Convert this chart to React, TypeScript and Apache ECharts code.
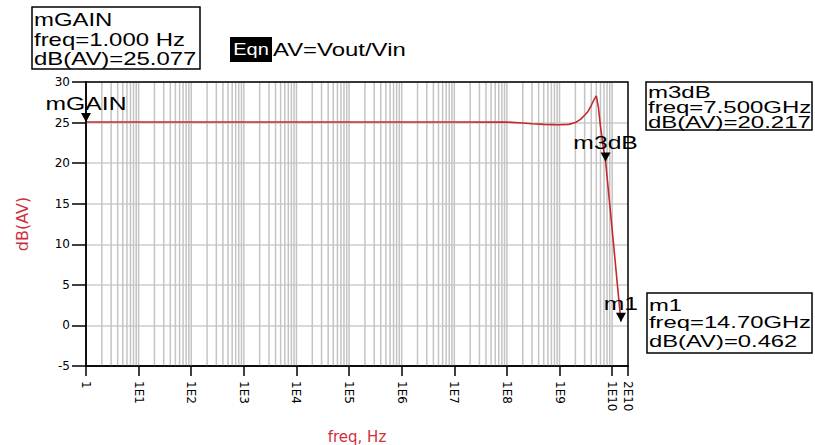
import React, { useEffect, useRef } from "react";
import * as echarts from "echarts";

// ---- data ----
const freqHz = [
  1, 10, 100, 1e3, 1e4, 1e5, 1e6, 1e7, 1e8, 2e8, 3e8, 5e8, 8e8, 1e9, 1.5e9,
  2e9, 2.5e9, 3e9, 3.5e9, 4e9, 4.5e9, 5e9, 5.5e9, 6e9, 6.5e9, 7e9, 7.5e9,
  9e9, 1.1e10, 1.3e10, 1.47e10,
];
const gainDb = [
  25.077, 25.077, 25.077, 25.077, 25.077, 25.077, 25.077, 25.077, 25.06,
  24.95, 24.85, 24.78, 24.75, 24.74, 24.78, 25.0, 25.4, 25.9, 26.4, 27.1,
  27.8, 28.3, 26.8, 24.5, 22.8, 21.4, 20.217, 14.9, 9.0, 4.0, 0.462,
];
const markerNames = ["mGAIN", "m3dB", "m1"];
const markerFreq = [1, 7.5e9, 1.47e10];
const markerDb = [25.077, 20.217, 0.462];

const xTickHz = [1, 1e1, 1e2, 1e3, 1e4, 1e5, 1e6, 1e7, 1e8, 1e9, 1e10, 2e10];
const xTickLabels = ["1", "1E1", "1E2", "1E3", "1E4", "1E5", "1E6", "1E7", "1E8", "1E9", "1E10", "2E10"];
const yMin = -5;
const yMax = 30;
const yStep = 5;

const gainBoxLines = ["mGAIN", "freq=1.000 Hz", "dB(AV)=25.077"];
const m3dBBoxLines = ["m3dB", "freq=7.500GHz", "dB(AV)=20.217"];
const m1BoxLines = ["m1", "freq=14.70GHz", "dB(AV)=0.462"];
const eqnTag = "Eqn";
const eqnText = "AV=Vout/Vin";
const xName = "freq, Hz";
const yName = "dB(AV)";

// grid lines positions (log axis structure): k * 10^n
const gridHz: number[] = [];
for (let n = 0; n <= 10; n++) {
  for (let k = 1; k <= 9; k++) {
    const v = k * Math.pow(10, n);
    if (v > 1 && v < 2e10) gridHz.push(v);
  }
}

const LS = '"Liberation Sans", Arial, sans-serif';
const DJ = '"DejaVu Sans", sans-serif';

function boxText(lines: string[], x: number, ys: number[], size: number, sx: number) {
  return lines.map((t, i) => ({
    type: "text",
    x,
    y: ys[i],
    scaleX: sx,
    z: 11,
    style: { text: t, font: `${size}px ${LS}`, fill: "#000", verticalAlign: "middle", align: "left" },
  }));
}

export default function App() {
  const ref = useRef<HTMLDivElement>(null);
  useEffect(() => {
    if (!ref.current) return;
    const chart = echarts.init(ref.current, undefined, { renderer: "svg" });
    const tickLogs = xTickHz.map((v) => Math.log10(v));
    const option: any = {
      animation: false,
      backgroundColor: "#fff",
      grid: {
        show: true,
        left: 86,
        right: 187,
        top: 82,
        bottom: 79,
        containLabel: false,
        outerBoundsMode: "none",
        borderColor: "#000",
        borderWidth: 1.5,
        backgroundColor: "transparent",
        z: 5,
      },
      xAxis: {
        type: "value",
        min: 0,
        max: Math.log10(2e10),
        axisLine: { show: true, onZero: false, lineStyle: { color: "#000", width: 1.5 } },
        axisTick: { show: true, customValues: tickLogs, length: 10, lineStyle: { color: "#000", width: 1.5 } },
        axisLabel: {
          customValues: tickLogs,
          rotate: -90,
          margin: 15,
          fontSize: 12,
          fontFamily: DJ,
          color: "#000",
          formatter: (v: number) => {
            const i = tickLogs.findIndex((t) => Math.abs(t - v) < 1e-6);
            return i >= 0 ? xTickLabels[i] : "";
          },
        },
        splitLine: { show: false },
        name: xName,
        nameLocation: "middle",
        nameGap: 63,
        nameTextStyle: { color: "#d0303a", fontSize: 15, fontFamily: DJ },
      },
      yAxis: {
        type: "value",
        min: yMin,
        max: yMax,
        interval: yStep,
        axisLine: { show: true, onZero: false, lineStyle: { color: "#000", width: 1.5 } },
        axisTick: { show: true, length: 14, lineStyle: { color: "#000", width: 1.5 } },
        axisLabel: { margin: 16, fontSize: 12, fontFamily: DJ, color: "#000" },
        splitLine: { show: true, lineStyle: { color: "#cdcdcd", width: 1.5 } },
        name: yName,
        nameLocation: "middle",
        nameGap: 56,
        nameRotate: 90,
        nameTextStyle: { color: "#d0303a", fontSize: 16, fontFamily: DJ },
      },
      series: [
        {
          type: "custom",
          silent: true,
          z: 1,
          clip: true,
          data: gridHz.map((f) => [Math.log10(f), yMin]),
          encode: { x: 0, y: 1 },
          renderItem: (_p: any, api: any) => {
            const x = api.value(0);
            const a = api.coord([x, yMin]);
            const b = api.coord([x, yMax]);
            return {
              type: "line",
              shape: { x1: a[0], y1: a[1], x2: b[0], y2: b[1] },
              style: { stroke: "#c4c4c4", lineWidth: 1.5 },
            };
          },
        },
        {
          type: "line",
          z: 3,
          showSymbol: false,
          symbol: "none",
          data: freqHz.map((f, i) => [Math.log10(f), gainDb[i]]),
          lineStyle: { color: "#c42830", width: 1.6 },
        },
        {
          type: "custom",
          z: 6,
          silent: true,
          data: markerFreq.map((f, i) => [Math.log10(f), markerDb[i], i]),
          encode: { x: 0, y: 1 },
          renderItem: (_p: any, api: any) => {
            const p = api.coord([api.value(0), api.value(1)]);
            const i = api.value(2);
            return {
              type: "group",
              children: [
                {
                  type: "polygon",
                  shape: { points: [[p[0] - 5, p[1] - 9], [p[0] + 5, p[1] - 9], [p[0], p[1]]] },
                  style: { fill: "#000" },
                },
                {
                  type: "text",
                  x: p[0],
                  y: p[1] - 9,
                  scaleX: 1.3,
                  style: {
                    text: markerNames[i],
                    font: `19px ${LS}`,
                    fill: "#000",
                    align: "center",
                    verticalAlign: "bottom",
                  },
                },
              ],
            };
          },
        },
      ],
      graphic: [
        { type: "rect", z: 10, shape: { x: 32, y: 7, width: 168, height: 62 }, style: { fill: "#fff", stroke: "#000", lineWidth: 1.5 } },
        ...boxText(gainBoxLines, 34, [20, 40, 59], 18, 1.33),
        { type: "rect", z: 10, shape: { x: 230, y: 37, width: 42, height: 25 }, style: { fill: "#000" } },
        { type: "text", z: 11, x: 251, y: 50, scaleX: 1.25, style: { text: eqnTag, font: `16px ${LS}`, fill: "#fff", align: "center", verticalAlign: "middle" } },
        { type: "text", z: 11, x: 273, y: 50, scaleX: 1.33, style: { text: eqnText, font: `18px ${LS}`, fill: "#000", align: "left", verticalAlign: "middle" } },
        { type: "rect", z: 10, shape: { x: 646, y: 82, width: 166, height: 48 }, style: { fill: "#fff", stroke: "#000", lineWidth: 1.5 } },
        ...boxText(m3dBBoxLines, 648, [93, 108, 123], 16, 1.5),
        { type: "rect", z: 10, shape: { x: 647, y: 293, width: 165, height: 60 }, style: { fill: "#fff", stroke: "#000", lineWidth: 1.5 } },
        ...boxText(m1BoxLines, 649, [305, 322, 341], 17, 1.4),
      ],
    };
    chart.setOption(option);
    return () => chart.dispose();
  }, []);
  return (
    <div
      ref={ref}
      style={{ position: "absolute", left: 0, top: 0, width: 815, height: 445, background: "#fff" }}
    />
  );
}
